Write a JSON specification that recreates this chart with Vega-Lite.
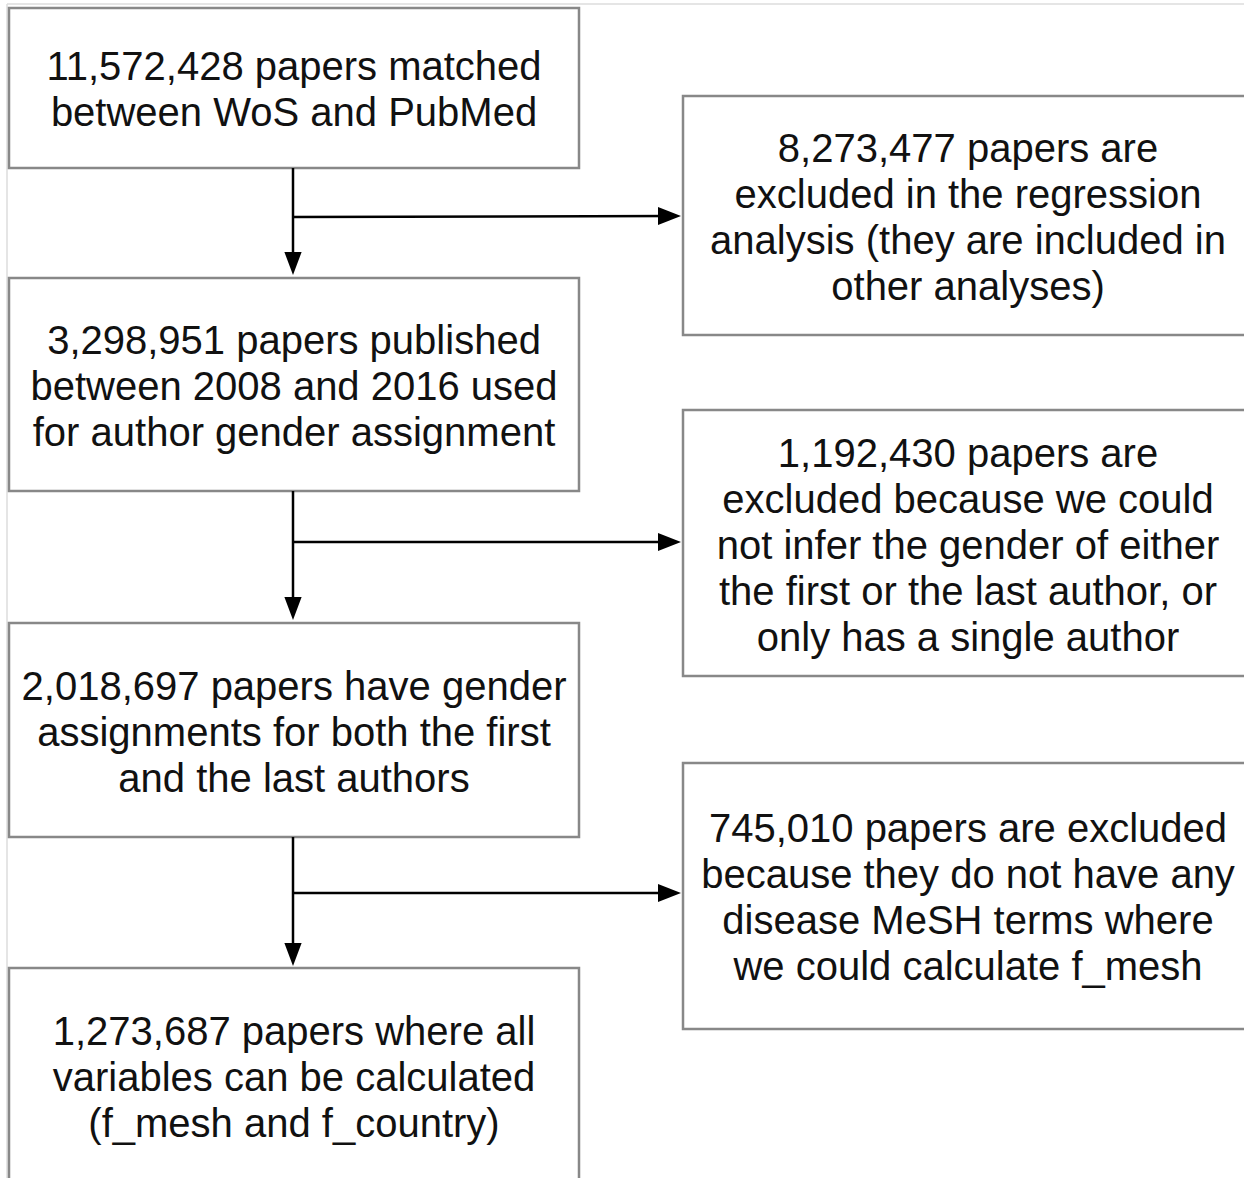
{
  "$schema": "https://vega.github.io/schema/vega-lite/v6.json",
  "width": 1244,
  "height": 1178,
  "padding": 0,
  "autosize": {"type": "none"},
  "background": "white",
  "config": {"view": {"stroke": null}},
  "datasets": {
    "frame": [
      {"x": 7, "y": 4, "x2": 1244, "y2": 4},
      {"x": 7, "y": 4, "x2": 7, "y2": 1178}
    ],
    "boxes": [
      {"id": "b1", "x": 9, "x2": 579, "y": 8, "y2": 168},
      {"id": "b2", "x": 9, "x2": 579, "y": 278, "y2": 491},
      {"id": "b3", "x": 9, "x2": 579, "y": 623, "y2": 837},
      {"id": "b4", "x": 9, "x2": 579, "y": 968, "y2": 1190},
      {"id": "r1", "x": 683, "x2": 1260, "y": 96, "y2": 335},
      {"id": "r2", "x": 683, "x2": 1260, "y": 410, "y2": 676},
      {"id": "r3", "x": 683, "x2": 1260, "y": 763, "y2": 1029}
    ],
    "links": [
      {"x": 293, "y": 168, "x2": 293, "y2": 262},
      {"x": 293, "y": 217, "x2": 670, "y2": 216},
      {"x": 293, "y": 491, "x2": 293, "y2": 606},
      {"x": 293, "y": 542, "x2": 668, "y2": 542},
      {"x": 293, "y": 837, "x2": 293, "y2": 952},
      {"x": 293, "y": 893, "x2": 668, "y2": 893}
    ],
    "heads": [
      {"dir": "down", "x": 293, "y": 275},
      {"dir": "right", "x": 681, "y": 216},
      {"dir": "down", "x": 293, "y": 620},
      {"dir": "right", "x": 681, "y": 542},
      {"dir": "down", "x": 293, "y": 966},
      {"dir": "right", "x": 681, "y": 893}
    ],
    "labels": [
      {"x": 294, "y": 68, "lines": ["11,572,428 papers matched", "between WoS and PubMed"]},
      {"x": 294, "y": 342, "lines": ["3,298,951 papers published", "between 2008 and 2016 used", "for author gender assignment"]},
      {"x": 294, "y": 688, "lines": ["2,018,697 papers have gender", "assignments for both the first", "and the last authors"]},
      {"x": 294, "y": 1033, "lines": ["1,273,687 papers where all", "variables can be calculated", "(f_mesh and f_country)"]},
      {"x": 968, "y": 150, "lines": ["8,273,477 papers are", "excluded in the regression", "analysis (they are included in", "other analyses)"]},
      {"x": 968, "y": 455, "lines": ["1,192,430 papers are", "excluded because we could", "not infer the gender of either", "the first or the last author, or", "only has a single author"]},
      {"x": 968, "y": 830, "lines": ["745,010 papers are excluded", "because they do not have any", "disease MeSH terms where", "we could calculate f_mesh"]}
    ]
  },
  "layer": [
    {
      "data": {"name": "frame"},
      "mark": {"type": "rule", "color": "#dcdcdc", "strokeWidth": 1.5, "clip": true},
      "encoding": {
        "x": {"field": "x", "type": "quantitative", "scale": {"domain": [0, 1244], "nice": false, "zero": false}, "axis": null},
        "y": {"field": "y", "type": "quantitative", "scale": {"domain": [0, 1178], "nice": false, "zero": false, "reverse": true}, "axis": null},
        "x2": {"field": "x2"},
        "y2": {"field": "y2"}
      }
    },
    {
      "data": {"name": "boxes"},
      "mark": {"type": "rect", "fill": "white", "stroke": "#888888", "strokeWidth": 2.5, "clip": true},
      "encoding": {
        "x": {"field": "x", "type": "quantitative", "axis": null},
        "x2": {"field": "x2"},
        "y": {"field": "y", "type": "quantitative", "axis": null},
        "y2": {"field": "y2"}
      }
    },
    {
      "data": {"name": "links"},
      "mark": {"type": "rule", "color": "black", "strokeWidth": 2.5},
      "encoding": {
        "x": {"field": "x", "type": "quantitative", "axis": null},
        "x2": {"field": "x2"},
        "y": {"field": "y", "type": "quantitative", "axis": null},
        "y2": {"field": "y2"}
      }
    },
    {
      "data": {"name": "heads"},
      "mark": {"type": "point", "filled": true, "color": "black", "opacity": 1, "strokeWidth": 0, "size": 529},
      "encoding": {
        "x": {"field": "x", "type": "quantitative", "axis": null},
        "y": {"field": "y", "type": "quantitative", "axis": null},
        "shape": {
          "field": "dir",
          "type": "nominal",
          "scale": {"domain": ["down", "right"], "range": ["M-0.75,-2L0.75,-2L0,0Z", "M-2,-0.78L-2,0.78L0,0Z"]},
          "legend": null
        }
      }
    },
    {
      "data": {"name": "labels"},
      "mark": {"type": "text", "font": "Liberation Sans", "fontSize": 40, "lineHeight": 46, "align": "center", "baseline": "middle", "color": "#111111"},
      "encoding": {
        "x": {"field": "x", "type": "quantitative", "axis": null},
        "y": {"field": "y", "type": "quantitative", "axis": null},
        "text": {"field": "lines"}
      }
    }
  ]
}
